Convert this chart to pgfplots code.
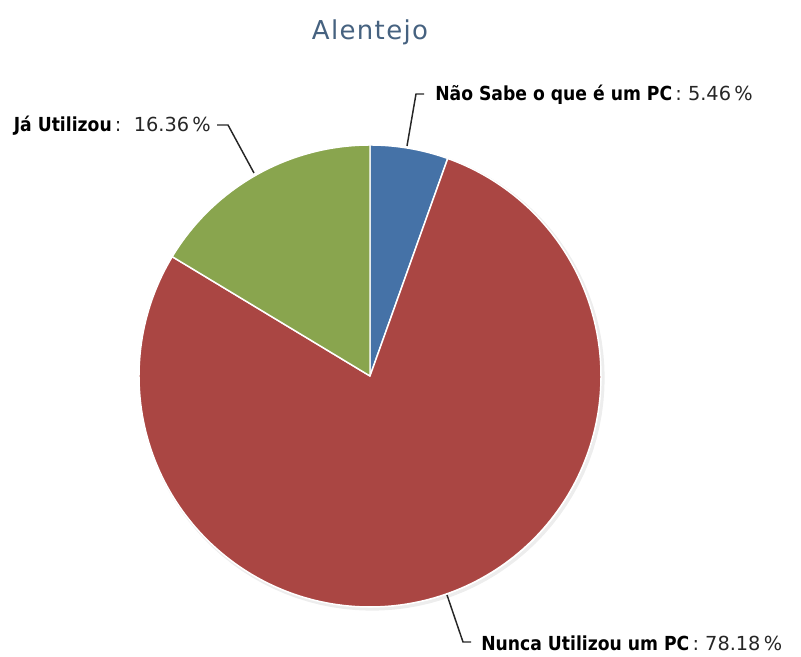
\documentclass[border=0pt]{standalone}
\usepackage{fontspec}
\setmainfont{DejaVu Sans}
\newfontfamily\labfont{DejaVu Sans}[FakeStretch=0.89]
\usepackage{pgfplots}
\usepackage{pgfplotstable}
\pgfplotsset{compat=1.18}
\definecolor{hcblue}{HTML}{4572A7}
\definecolor{hcred}{HTML}{AA4643}
\definecolor{hcgreen}{HTML}{89A54E}
\definecolor{titlecol}{RGB}{70,98,128}
\newcommand\val[1]{{\rmfamily\color{black!85}#1}}
\pgfplotstableread{
label pct
NaoSabe 5.46
Nunca 78.18
Ja 16.36
}\piedata
\begin{document}
\begin{tikzpicture}
\pgfplotstablegetelem{0}{pct}\of\piedata \let\pA\pgfplotsretval
\pgfplotstablegetelem{1}{pct}\of\piedata \let\pB\pgfplotsretval
\pgfplotstablegetelem{2}{pct}\of\piedata \let\pC\pgfplotsretval
\pgfmathsetmacro\aA{90}
\pgfmathsetmacro\aB{90-3.6*\pA}
\pgfmathsetmacro\aC{\aB-3.6*\pB}
\pgfmathsetmacro\aD{\aC-3.6*\pC}
\begin{axis}[x=0.75pt, y=0.75pt, xmin=0, xmax=801, ymin=0, ymax=657,
  hide axis, clip=false]
\path (axis cs:0,0) rectangle (axis cs:801,657);
% shadow
\addplot[draw=black!7, line width=2.5pt, domain=0:360, samples=120, no markers]
  ({372+231*cos(x)},{279+231*sin(x)});
% slices
\addplot[fill=hcblue, draw=white, line width=1.1pt, line join=round, domain=\aB:\aA, samples=30, no markers]
  ({370+231*cos(x)},{281+231*sin(x)}) -- (axis cs:370,281) -- cycle;
\addplot[fill=hcred, draw=white, line width=1.1pt, line join=round, domain=\aC:\aB, samples=200, no markers]
  ({370+231*cos(x)},{281+231*sin(x)}) -- (axis cs:370,281) -- cycle;
\addplot[fill=hcgreen, draw=white, line width=1.1pt, line join=round, domain=\aD:\aC, samples=50, no markers]
  ({370+231*cos(x)},{281+231*sin(x)}) -- (axis cs:370,281) -- cycle;
% connectors
\addplot[black!85, line width=1.1pt, no markers] coordinates {(407,511) (416,563) (424,563)};
\addplot[black!85, line width=1.1pt, no markers] coordinates {(254,484) (228,532) (217,532)};
\addplot[black!85, line width=1.1pt, no markers] coordinates {(447,62) (463,15) (471,15)};
% labels
\node[anchor=west, inner sep=0pt, font=\labfont\fontsize{14.5}{16}\selectfont] at (axis cs:435,562)
  {\textbf{Não Sabe o que é um PC}\,\val{: 5.46\,\%}};
\node[anchor=east, inner sep=0pt, font=\labfont\fontsize{14.5}{16}\selectfont] at (axis cs:211,531)
  {\textbf{Já Utilizou}\,\val{:\ \ 16.36\,\%}};
\node[anchor=west, inner sep=0pt, font=\labfont\fontsize{14.5}{16}\selectfont] at (axis cs:481,14)
  {\textbf{Nunca Utilizou um PC}\,\val{: 78.18\,\%}};
% title
\node[anchor=center, inner sep=0pt, text=titlecol, font=\fontsize{19.5}{22}\selectfont] at (axis cs:370,625)
  {A\kern1pt l\kern1pt e\kern1pt n\kern1pt t\kern1pt e\kern1pt j\kern1pt o};
\end{axis}
\end{tikzpicture}
\end{document}
